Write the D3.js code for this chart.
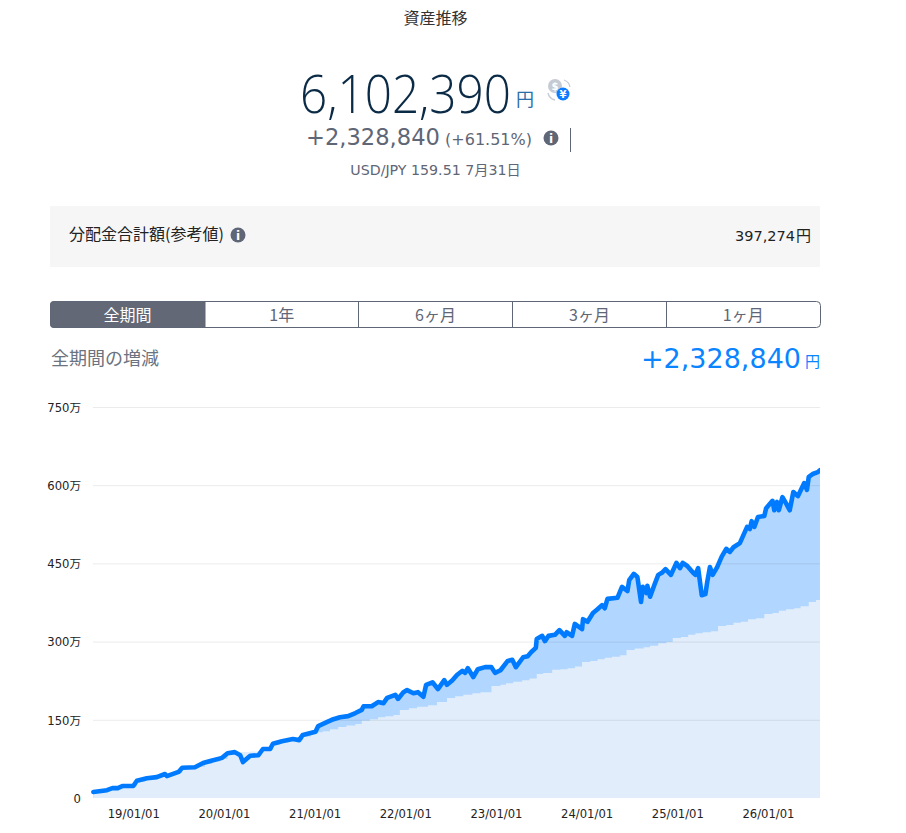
<!DOCTYPE html>
<html>
<head>
<meta charset="utf-8">
<title>資産推移</title>
<script src="https://cdn.jsdelivr.net/npm/d3@7"></script>
<style>
  body { margin: 0; background: #fff; }
  svg { display: block; }
  text { font-family: "DejaVu Sans", "Noto Sans CJK JP", sans-serif; }
  .jp { font-family: "Noto Sans CJK JP", sans-serif; }
  .axis text { font-family: "DejaVu Sans", "Noto Sans CJK JP", sans-serif; font-size: 11.6px; fill: #222; }
  .axis path, .axis line { display: none; }
</style>
</head>
<body>
<div id="chart"></div>
<script>
// values are in 万円, dates are decimal years
var lineYears = [2018.56,2018.71,2018.77,2018.83,2018.88,2019.00,2019.04,2019.15,2019.26,2019.35,2019.37,2019.50,2019.54,2019.68,2019.77,2019.85,2019.98,2020.04,2020.12,2020.18,2020.21,2020.29,2020.38,2020.43,2020.51,2020.54,2020.64,2020.76,2020.83,2020.87,2021.01,2021.04,2021.14,2021.19,2021.28,2021.37,2021.45,2021.52,2021.54,2021.63,2021.70,2021.76,2021.80,2021.89,2021.92,2021.98,2022.02,2022.09,2022.14,2022.20,2022.23,2022.30,2022.36,2022.43,2022.46,2022.52,2022.57,2022.63,2022.66,2022.69,2022.75,2022.80,2022.88,2022.95,2022.99,2023.05,2023.13,2023.18,2023.22,2023.30,2023.35,2023.39,2023.44,2023.45,2023.51,2023.54,2023.58,2023.65,2023.70,2023.76,2023.78,2023.84,2023.87,2023.95,2023.96,2024.01,2024.07,2024.12,2024.17,2024.20,2024.23,2024.34,2024.39,2024.45,2024.47,2024.52,2024.56,2024.60,2024.62,2024.66,2024.67,2024.70,2024.75,2024.79,2024.83,2024.87,2024.93,2024.99,2025.03,2025.06,2025.11,2025.17,2025.20,2025.23,2025.27,2025.31,2025.33,2025.36,2025.39,2025.44,2025.49,2025.54,2025.58,2025.62,2025.69,2025.77,2025.80,2025.82,2025.85,2025.89,2025.96,2025.98,2026.05,2026.07,2026.10,2026.12,2026.16,2026.20,2026.24,2026.28,2026.33,2026.40,2026.43,2026.45,2026.50,2026.55,2026.574];
var lineValues = [11.5,15,19,19,23,23,33,38,40,46,42,50,58,59,67,71,77,86,88,82,69,81,82,94,94,104,109,113,111,121,127,138,146,150,155,157,163,169,176,176,184,182,192,198,190,203,207,201,203,194,217,222,209,226,217,226,236,244,240,249,232,247,251,251,240,245,263,265,251,270,272,280,288,305,311,301,311,313,322,311,318,311,334,324,343,338,355,362,370,364,382,384,405,397,418,430,424,376,405,393,407,386,410,428,432,439,428,451,441,451,445,433,428,441,389,391,414,443,428,443,463,478,472,481,489,520,516,531,520,539,541,556,570,552,568,552,577,565,552,587,579,604,591,616,622,625,629];

var costYears = [2018.56,2018.64,2018.72,2018.81,2018.89,2018.97,2019.04,2019.13,2019.21,2019.29,2019.38,2019.46,2019.54,2019.62,2019.71,2019.79,2019.87,2019.96,2020.04,2020.13,2020.21,2020.29,2020.38,2020.46,2020.54,2020.62,2020.71,2020.79,2020.87,2020.96,2021.04,2021.09,2021.17,2021.26,2021.35,2021.45,2021.52,2021.61,2021.70,2021.78,2021.87,2021.94,2022.04,2022.13,2022.25,2022.35,2022.46,2022.55,2022.64,2022.74,2022.83,2022.95,2023.05,2023.11,2023.19,2023.29,2023.37,2023.45,2023.52,2023.62,2023.71,2023.79,2023.87,2023.95,2024.04,2024.12,2024.20,2024.28,2024.37,2024.44,2024.53,2024.63,2024.70,2024.79,2024.88,2024.95,2025.04,2025.12,2025.20,2025.28,2025.37,2025.45,2025.54,2025.62,2025.70,2025.78,2025.87,2025.96,2026.05,2026.12,2026.20,2026.29,2026.36,2026.45,2026.53];
var costValues = [11,13,15,17,20,22,31,36,40,42,45,48,56,58,60,65,70,75,84,88,88,89,90,92,102,107,111,111,118,124,126,128,132,136,139,142,148,151,155,157,159,169,172,175,178,184,192,195,198,201,203,215,217,220,223,226,229,238,240,246,247,249,252,261,263,266,269,271,274,284,287,289,292,297,299,307,309,313,316,318,320,330,332,336,338,343,345,353,355,359,362,364,368,376,380];

var yTicks = [0,150,300,450,600,750];
var xTickYears = [2019,2020,2021,2022,2023,2024,2025,2026];
var xTickLabels = ["19/01/01","20/01/01","21/01/01","22/01/01","23/01/01","24/01/01","25/01/01","26/01/01"];
var tabLabels = ["全期間","1年","6ヶ月","3ヶ月","1ヶ月"];
var tabEdges = [50,205,358.5,512.5,666.5,820];

var width = 906, height = 833;
var svg = d3.select("#chart").append("svg").attr("width", width).attr("height", height);

function addText(x, y, str, size, color, anchor, weight, cls, family){
    var t = svg.append("text").attr("x", x).attr("y", y)
        .attr("font-size", size).attr("fill", color)
        .attr("text-anchor", anchor || "start")
        .text(str);
    if (weight) t.attr("font-weight", weight);
    if (cls) t.attr("class", cls);
    if (family) t.style("font-family", family);
    return t;
}

function infoIcon(cx, cy){
    svg.append("circle").attr("cx", cx).attr("cy", cy).attr("r", 7.5).attr("fill", "#5f6675");
    addText(cx, cy + 4.5, "i", 12, "#fff", "middle", "bold");
}

// header
addText(435.5, 24, "資産推移", 16, "#333", "middle", null, "jp");
addText(300, 113, "6,102,390", 54, "#0a2a45", "start", 300, null, "'Open Sans'")
    .attr("textLength", 211).attr("lengthAdjust", "spacingAndGlyphs");
addText(525, 106, "円", 18, "#2b6ea8", "middle", null, "jp");

// currency switch icon
svg.append("circle").attr("cx", 555).attr("cy", 86).attr("r", 7).attr("fill", "#c6cbd3");
addText(555, 90, "$", 10, "#fff", "middle", "bold");
svg.append("circle").attr("cx", 563).attr("cy", 94).attr("r", 6.5).attr("fill", "#0a7cff");
addText(563, 98, "¥", 10, "#fff", "middle", "bold");
svg.append("path").attr("d", "M564 80 A9 9 0 0 1 570 87").attr("fill", "none").attr("stroke", "#c6cbd3").attr("stroke-width", 1.3);
svg.append("path").attr("d", "M548 93 A9 9 0 0 0 555 100").attr("fill", "none").attr("stroke", "#c6cbd3").attr("stroke-width", 1.3);

addText(306, 145, "+2,328,840", 22.6, "#5f6675", "start");
addText(488.5, 145, "(+61.51%)", 16, "#5f6675", "middle");
infoIcon(551, 138);
svg.append("line").attr("x1", 570.5).attr("x2", 570.5).attr("y1", 128).attr("y2", 152).attr("stroke", "#5f6675");
addText(435.5, 175, "USD/JPY 159.51 7月31日", 14.2, "#5f6675", "middle");

// distribution box
svg.append("rect").attr("x", 50).attr("y", 206).attr("width", 770).attr("height", 61).attr("fill", "#f6f6f6");
addText(69, 240, "分配金合計額(参考値)", 16, "#222", "start", null, "jp");
infoIcon(238, 235);
addText(795, 241, "397,274", 14.5, "#222", "end");
addText(796, 241, "円", 15, "#222", "start", null, "jp");

// period tabs
svg.append("clipPath").attr("id", "tabClip").append("rect")
    .attr("x", 50).attr("y", 301).attr("width", 770).attr("height", 27).attr("rx", 4);
svg.append("rect").attr("x", 50).attr("y", 301).attr("width", 155).attr("height", 27)
    .attr("fill", "#626875").attr("clip-path", "url(#tabClip)");
svg.append("rect").attr("x", 50.5).attr("y", 301.5).attr("width", 770).attr("height", 26).attr("rx", 4)
    .attr("fill", "none").attr("stroke", "#5f6675");
tabEdges.slice(1, 5).forEach(function(d){
    svg.append("line").attr("x1", d).attr("x2", d).attr("y1", 301).attr("y2", 328).attr("stroke", "#5f6675");
});
tabLabels.forEach(function(d, i){
    addText((tabEdges[i] + tabEdges[i + 1]) / 2, 320.5, d, 16, i == 0 ? "#fff" : "#5f6675", "middle", null, "jp");
});

addText(51, 365, "全期間の増減", 18, "#6b7280", "start", null, "jp");
addText(801, 368, "+2,328,840", 27, "#0a84ff", "end");
addText(812.5, 367, "円", 15, "#0a84ff", "middle", null, "jp");

// chart
var x = d3.scaleLinear().domain([2018.556, 2026.574]).range([93, 820]);
var y = d3.scaleLinear().domain([0, 750]).range([798, 407]);

var lineData = lineYears.map(function(d, i){ return {year: d, value: lineValues[i]}; });
var costData = costYears.map(function(d, i){ return {year: d, value: costValues[i]}; });
costData.push({year: x.domain()[1], value: costValues[costValues.length - 1]});

var lineArea = d3.area().x(function(d){ return x(d.year); }).y0(y(0)).y1(function(d){ return y(d.value); });
var costArea = d3.area().x(function(d){ return x(d.year); }).y0(y(0)).y1(function(d){ return y(d.value); })
    .curve(d3.curveStepAfter);
var line = d3.line().x(function(d){ return x(d.year); }).y(function(d){ return y(d.value); });

svg.append("path").datum(lineData).attr("d", lineArea).attr("fill", "#b1d6ff");
svg.append("path").datum(costData).attr("d", costArea).attr("fill", "#e1edfa");

svg.append("g").selectAll("line").data(yTicks.slice(1)).enter().append("line")
    .attr("x1", x.range()[0]).attr("x2", x.range()[1])
    .attr("y1", function(d){ return y(d) + 0.5; }).attr("y2", function(d){ return y(d) + 0.5; })
    .attr("stroke", "#000").attr("stroke-opacity", 0.08);

svg.append("clipPath").attr("id", "plotClip").append("rect")
    .attr("x", 90).attr("y", 400).attr("width", 730).attr("height", 400);
svg.append("path").datum(lineData).attr("d", line).attr("fill", "none")
    .attr("stroke", "#007bff").attr("stroke-width", 4.6).attr("stroke-linejoin", "round").attr("stroke-linecap", "round")
    .attr("clip-path", "url(#plotClip)");

svg.append("g").attr("class", "axis").attr("transform", "translate(0,798)")
    .call(d3.axisBottom(x).tickValues(xTickYears).tickSize(0).tickPadding(12)
        .tickFormat(function(d, i){ return xTickLabels[i]; }));
svg.append("g").attr("class", "axis").attr("transform", "translate(81,0.5)")
    .call(d3.axisLeft(y).tickValues(yTicks).tickSize(0).tickPadding(0)
        .tickFormat(function(d){ return d == 0 ? "0" : d + "万"; }));
</script>
</body>
</html>
